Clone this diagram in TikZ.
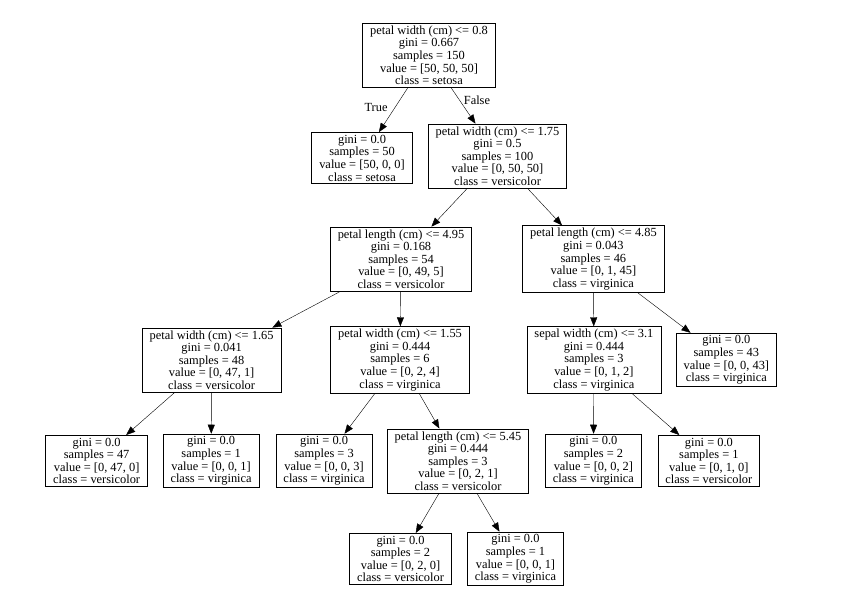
\documentclass[tikz,border=0pt]{standalone}
\usepackage{fontspec}
\setmainfont{Liberation Serif}
\usetikzlibrary{arrows.meta}

\tikzset{
	tnode/.style={draw, line width=0.8pt, align=center, inner xsep=7.5pt, inner ysep=2.5pt,
		font=\fontsize{12.4}{12.6}\selectfont},
	tlabel/.style={font=\fontsize{12.4}{12.6}\selectfont},
	>={Triangle[length=9pt,width=7pt]}
}

\begin{document}
\begin{tikzpicture}[x=1pt, y=-1pt]
		\filldraw[white] (0, 0) rectangle (851, 598);

		\node[tnode] (N0) at (429, 55) {petal width (cm) <= 0.8\\gini = 0.667\\samples = 150\\value = [50, 50, 50]\\class = setosa};

		\node[tnode] (N1) at (362, 158) {gini = 0.0\\samples = 50\\value = [50, 0, 0]\\class = setosa};
		\node[tnode] (N2) at (497.5, 156) {petal width (cm) <= 1.75\\gini = 0.5\\samples = 100\\value = [0, 50, 50]\\class = versicolor};

		\node[tnode] (N3) at (401, 259) {petal length (cm) <= 4.95\\gini = 0.168\\samples = 54\\value = [0, 49, 5]\\class = versicolor};
		\node[tnode] (N4) at (593.5, 259) {petal length (cm) <= 4.85\\gini = 0.043\\samples = 46\\value = [0, 1, 45]\\class = virginica};

		\node[tnode] (N5) at (211.5, 360) {petal width (cm) <= 1.65\\gini = 0.041\\samples = 48\\value = [0, 47, 1]\\class = versicolor};
		\node[tnode] (N6) at (400, 360) {petal width (cm) <= 1.55\\gini = 0.444\\samples = 6\\value = [0, 2, 4]\\class = virginica};
		\node[tnode] (N7) at (594, 360) {sepal width (cm) <= 3.1\\gini = 0.444\\samples = 3\\value = [0, 1, 2]\\class = virginica};
		\node[tnode] (N8) at (726.5, 360) {gini = 0.0\\samples = 43\\value = [0, 0, 43]\\class = virginica};

		\node[tnode] (N9) at (96.5, 461) {gini = 0.0\\samples = 47\\value = [0, 47, 0]\\class = versicolor};
		\node[tnode] (N10) at (211, 461) {gini = 0.0\\samples = 1\\value = [0, 0, 1]\\class = virginica};
		\node[tnode] (N11) at (324, 461) {gini = 0.0\\samples = 3\\value = [0, 0, 3]\\class = virginica};
		\node[tnode] (N12) at (458, 461) {petal length (cm) <= 5.45\\gini = 0.444\\samples = 3\\value = [0, 2, 1]\\class = versicolor};
		\node[tnode] (N13) at (593.5, 461) {gini = 0.0\\samples = 2\\value = [0, 0, 2]\\class = virginica};
		\node[tnode] (N14) at (709, 461) {gini = 0.0\\samples = 1\\value = [0, 1, 0]\\class = versicolor};

		\node[tnode] (N15) at (400.5, 559) {gini = 0.0\\samples = 2\\value = [0, 2, 0]\\class = versicolor};
		\node[tnode] (N16) at (515.5, 559) {gini = 0.0\\samples = 1\\value = [0, 0, 1]\\class = virginica};

		\node[tlabel] (LT) at (376, 107) {True};
		\node[tlabel] (LF) at (477, 100) {False};

		\draw[->] (N0) -- (N1);
		\draw[->] (N0) -- (N2);
		\draw[->] (N2) -- (N3);
		\draw[->] (N2) -- (N4);
		\draw[->] (N3) -- (N5);
		\draw[->] (N3) -- (N6);
		\draw[->] (N4) -- (N7);
		\draw[->] (N4) -- (N8);
		\draw[->] (N5) -- (N9);
		\draw[->] (N5) -- (N10);
		\draw[->] (N6) -- (N11);
		\draw[->] (N6) -- (N12);
		\draw[->] (N7) -- (N13);
		\draw[->] (N7) -- (N14);
		\draw[->] (N12) -- (N15);
		\draw[->] (N12) -- (N16);
	\end{tikzpicture}
\end{document}
